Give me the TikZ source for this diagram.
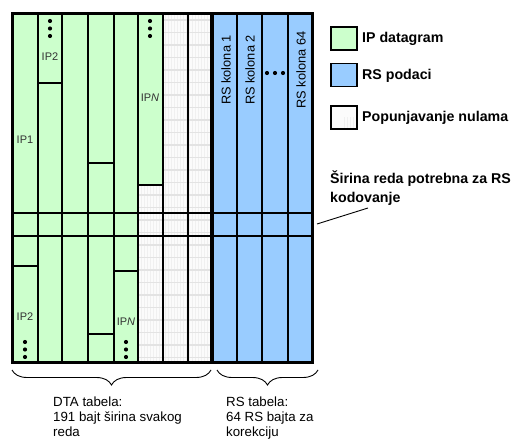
\documentclass[tikz,border=0pt]{standalone}
\usepackage{fontspec}
\setmainfont{Liberation Sans}
\usepackage{tikz}
\usetikzlibrary{
  decorations.pathreplacing,
  positioning
}
\definecolor{ipgreen}{RGB}{204,255,204}
\definecolor{rsblue}{RGB}{153,204,255}

\begin{document}
\begin{tikzpicture}[x=1pt, y=-1pt,
  ipcell/.style={fill=ipgreen},
  rscell/.style={fill=rsblue},
  padcell/.style={fill=gray!3, path picture={
      \foreach \xx in {0,3,...,523} {\draw[gray!12, line width=0.6pt] (\xx,0) -- (\xx,441);}
      \foreach \yy in {20,32.5,...,441} {\draw[gray!22, line width=1.8pt] (0,\yy) -- (523,\yy);}
    }},
  gridline/.style={line width=2pt},
  frameline/.style={line width=3pt},
  iplbl/.style={font=\fontsize{11}{13}\selectfont, text=black!80, inner sep=0pt},
  rslbl/.style={font=\fontsize{12.8}{14}\selectfont, rotate=90, inner sep=0pt},
  dot/.style={fill, circle, inner sep=0pt, minimum size=4.2pt},
  legbox/.style={draw, line width=1.6pt, minimum width=26pt, minimum height=23pt, inner sep=0pt},
  legtxt/.style={font=\fontsize{14.2}{17}\selectfont\bfseries, anchor=base west, inner sep=0pt},
  note/.style={font=\fontsize{13.3}{15}\selectfont, align=left, anchor=north west, inner sep=0pt},
  brace/.style={decorate, decoration={brace, mirror, amplitude=15pt}, line width=0.9pt}
]
  \useasboundingbox (0,0) rectangle (523,441);

  % cells
  \fill[ipcell] (12,14) rectangle (138,363);
  \fill[ipcell] (138,14) rectangle (163,185);
  \path[padcell] (138,185) rectangle (163,363);
  \path[padcell] (163,14) rectangle (212,363);
  \fill[rscell] (212,14) rectangle (312,363);

  % column and row lines
  \foreach \xx in {38,62,88,114,138,163,188,237,262,288}
    \draw[gridline] (\xx,14) -- (\xx,363);
  \foreach \yy in {213,236}
    \draw[gridline] (12,\yy) -- (312,\yy);

  % datagram boundaries
  \draw[gridline] (38,83) -- (62,83);
  \draw[gridline] (88,163) -- (114,163);
  \draw[gridline] (138,185) -- (163,185);
  \draw[gridline] (12,266) -- (38,266);
  \draw[gridline] (114,271) -- (138,271);
  \draw[gridline] (88,334) -- (114,334);

  \draw[frameline] (12,14) rectangle (312,363);
  \draw[line width=3.8pt] (212,14) -- (212,363);

  % labels
  \node[iplbl] (ip1) at (25,140) {IP1};
  \node[iplbl] (ip2a) at (50,57) {IP2};
  \node[iplbl] (ipna) at (150,98) {IP\textit{N}};
  \node[iplbl] (ip2b) at (25,317) {IP2};
  \node[iplbl] (ipnb) at (126,322) {IP\textit{N}};

  \foreach \yy [count=\i] in {21,28.5,36} {
    \node[dot] (dA\i) at (50,\yy) {};
    \node[dot] (dB\i) at (150,\yy) {};
  }
  \foreach \yy [count=\i] in {342,349.5,357} {
    \node[dot] (dC\i) at (25,\yy) {};
    \node[dot] (dD\i) at (126,\yy) {};
  }
  \foreach \xx [count=\i] in {267,275,283}
    \node[dot] (dE\i) at (\xx,73) {};

  \node[rslbl] (rs1) at (226,70) {RS kolona 1};
  \node[rslbl] (rs2) at (250,70) {RS kolona 2};
  \node[rslbl] (rs64) at (301,70) {RS kolona 64};

  % legend
  \node[legbox, fill=ipgreen] (legip) at (344,38.5) {};
  \node[legbox, fill=rsblue] (legrs) at (344,75) {};
  \node[legbox, padcell] (legpad) at (344,117.5) {};
  \node[legtxt] (txtip) at (362,43) {IP datagram};
  \node[legtxt] (txtrs) at (362,79.5) {RS podaci};
  \node[legtxt] (txtpad) at (362,122) {Popunjavanje nulama};

  \node[legtxt, anchor=north west, align=left, font=\fontsize{14.2}{19}\selectfont\bfseries]
    (sirina) at (330,171) {Širina reda potrebna za RS\\kodovanje};
  \coordinate (leadA) at (317,224);
  \coordinate (leadB) at (368,208);
  \draw[line width=0.9pt] (leadA) -- (leadB);

  % braces
  \coordinate (dtaL) at (12,370);
  \coordinate (dtaR) at (211,370);
  \coordinate (rsL) at (217,370);
  \coordinate (rsR) at (318,370);
  \draw[brace] (dtaL) -- (dtaR);
  \draw[brace] (rsL) -- (rsR);

  \node[note] (dta) at (53,397) {DTA tabela:\\191 bajt širina svakog\\reda};
  \node[note] (rstab) at (226,397) {RS tabela:\\64 RS bajta za\\korekciju};
\end{tikzpicture}
\end{document}
